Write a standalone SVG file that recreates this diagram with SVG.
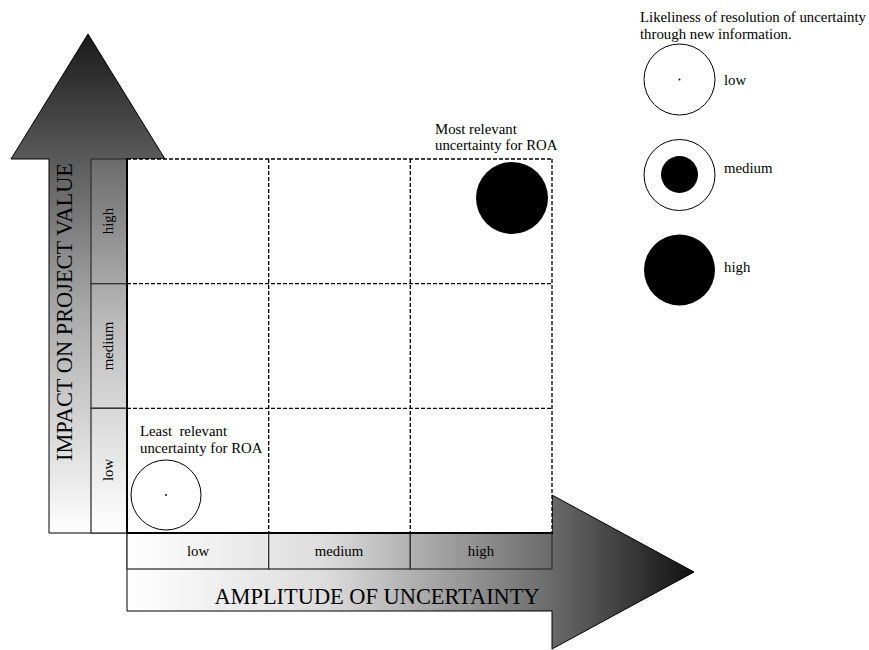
<svg xmlns="http://www.w3.org/2000/svg" width="869" height="650" viewBox="0 0 869 650">
  <defs>
    <!-- vertical axis: dark at the arrow tip, fading to white at the base -->
    <linearGradient id="gradV" gradientUnits="userSpaceOnUse" x1="0" y1="34" x2="0" y2="533">
      <stop offset="0" stop-color="#1a1a1a"/>
      <stop offset="0.25" stop-color="#5a5a5a"/>
      <stop offset="0.55" stop-color="#a8a8a8"/>
      <stop offset="1" stop-color="#ffffff"/>
    </linearGradient>
    <linearGradient id="gradVLabel" gradientUnits="userSpaceOnUse" x1="0" y1="159" x2="0" y2="533">
      <stop offset="0" stop-color="#6c6c6c"/>
      <stop offset="0.45" stop-color="#bdbdbd"/>
      <stop offset="1" stop-color="#ffffff"/>
    </linearGradient>
    <!-- horizontal axis: white at the origin, dark at the arrow tip -->
    <linearGradient id="gradH" gradientUnits="userSpaceOnUse" x1="127" y1="0" x2="694" y2="0">
      <stop offset="0" stop-color="#ffffff"/>
      <stop offset="0.35" stop-color="#dcdcdc"/>
      <stop offset="0.75" stop-color="#6a6a6a"/>
      <stop offset="1" stop-color="#111111"/>
    </linearGradient>
  </defs>
  <style>
    .arrow { stroke: #000; stroke-width: 1; stroke-linejoin: miter; }
    .lbox { stroke: #333; stroke-width: 1.3; }
    .dash { fill: none; stroke: #000; stroke-width: 1.3; stroke-dasharray: 4 2; }
    .solid { fill: none; stroke: #000; stroke-width: 2; }
    .t { font-family: "Liberation Serif", "Times New Roman", serif; fill: #000; }
    .s { font-size: 14.8px; }
    .big { font-size: 22.4px; }
    .ring { fill: #fff; stroke: #000; stroke-width: 1; }
    .dot { fill: #000; }
  </style>

  <rect width="869" height="650" fill="#fff"/>

  <!-- axis arrows -->
  <g id="connectors">
    <polygon id="axis-impact" class="arrow" fill="url(#gradV)"
             points="49,533 49,159 11,159 88,34 165,159 127,159 127,533"/>
    <polygon id="axis-amplitude" class="arrow" fill="url(#gradH)"
             points="127,533 552,533 552,495 694,572 552,649 552,611 127,611"/>
  </g>

  <!-- axis titles -->
  <g id="title-impact">
    <text class="t big" x="0" y="0" text-anchor="middle" transform="translate(72,312) rotate(-90)">IMPACT ON PROJECT VALUE</text>
  </g>
  <g id="title-amplitude">
    <text class="t big" x="377" y="604" text-anchor="middle">AMPLITUDE OF UNCERTAINTY</text>
  </g>

  <!-- impact level labels -->
  <g id="impact-levels">
    <rect class="lbox" x="91" y="159" width="36" height="124.7" fill="url(#gradVLabel)"/>
    <rect class="lbox" x="91" y="283.7" width="36" height="124.6" fill="url(#gradVLabel)"/>
    <rect class="lbox" x="91" y="408.3" width="36" height="124.7" fill="url(#gradVLabel)"/>
    <text class="t s" text-anchor="middle" transform="translate(113,221) rotate(-90)">high</text>
    <text class="t s" text-anchor="middle" transform="translate(113,346) rotate(-90)">medium</text>
    <text class="t s" text-anchor="middle" transform="translate(113,470) rotate(-90)">low</text>
  </g>

  <!-- amplitude level labels -->
  <g id="amplitude-levels">
    <rect class="lbox" x="127" y="533" width="141.7" height="36" fill="url(#gradH)"/>
    <rect class="lbox" x="268.7" y="533" width="141.6" height="36" fill="url(#gradH)"/>
    <rect class="lbox" x="410.3" y="533" width="141.7" height="36" fill="url(#gradH)"/>
    <text class="t s" x="198" y="556" text-anchor="middle">low</text>
    <text class="t s" x="339" y="556" text-anchor="middle">medium</text>
    <text class="t s" x="481" y="556" text-anchor="middle">high</text>
  </g>

  <!-- 3x3 matrix -->
  <g id="matrix">
    <rect x="127" y="159" width="425" height="374" fill="#fff"/>
    <line class="dash" x1="127" y1="159" x2="552" y2="159"/>
    <line class="dash" x1="127" y1="283.7" x2="552" y2="283.7"/>
    <line class="dash" x1="127" y1="408.3" x2="552" y2="408.3"/>
    <line class="dash" x1="268.7" y1="159" x2="268.7" y2="533"/>
    <line class="dash" x1="410.3" y1="159" x2="410.3" y2="533"/>
    <line class="dash" x1="552" y1="159" x2="552" y2="533"/>
    <line class="solid" x1="127" y1="158" x2="127" y2="534"/>
    <line class="solid" x1="126" y1="533" x2="553" y2="533"/>
  </g>

  <!-- corner annotations -->
  <g id="most-relevant">
    <text class="t s" x="435" y="134">Most relevant</text>
    <text class="t s" x="435" y="150">uncertainty for ROA</text>
    <circle class="dot" cx="512" cy="198" r="36"/>
  </g>
  <g id="least-relevant">
    <text class="t s" x="140" y="436" xml:space="preserve">Least  relevant</text>
    <text class="t s" x="140" y="453">uncertainty for ROA</text>
    <circle class="ring" cx="166" cy="495" r="35"/>
    <circle class="dot" cx="166" cy="495" r="0.9"/>
  </g>

  <!-- legend -->
  <g id="legend">
    <text class="t s" x="640" y="22">Likeliness of resolution of uncertainty</text>
    <text class="t s" x="640" y="39">through new information.</text>
    <g id="legend-low">
      <circle class="ring" cx="679.5" cy="79.5" r="35.5"/>
      <circle class="dot" cx="679.5" cy="79.5" r="0.9"/>
      <text class="t s" x="724" y="85">low</text>
    </g>
    <g id="legend-medium">
      <circle class="ring" cx="679.5" cy="175" r="35.5"/>
      <circle class="dot" cx="679.5" cy="174.5" r="18.5"/>
      <text class="t s" x="724" y="173">medium</text>
    </g>
    <g id="legend-high">
      <circle class="dot" cx="679.5" cy="270" r="35.5"/>
      <text class="t s" x="724" y="272">high</text>
    </g>
  </g>
</svg>
